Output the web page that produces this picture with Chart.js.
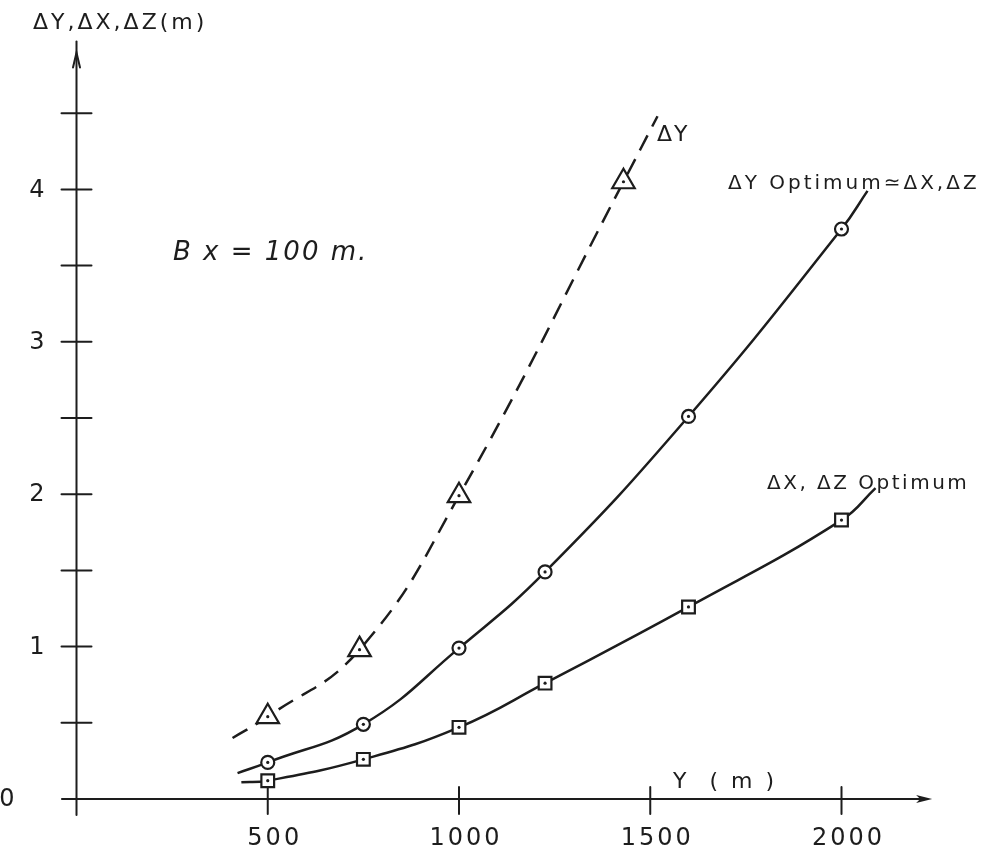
<!DOCTYPE html>
<html>
<head>
<meta charset="utf-8">
<script src="https://cdn.jsdelivr.net/npm/chart.js@4/dist/chart.umd.min.js"></script>
<style>
  html, body { margin: 0; padding: 0; background: #fff; }
  #wrap { width: 1008px; height: 852px; position: relative; }
</style>
</head>
<body>
<div id="wrap"><canvas id="grafico"></canvas></div>
<script>
// valores (Y en m)
const dyMarkX = [500, 740, 1000, 1430];
const dyMarkY = [0.54, 0.98, 1.99, 4.05];
const dyCurveX = [408, 500, 740, 1000, 1430, 1519];
const dyCurveY = [0.40, 0.54, 0.98, 1.99, 4.05, 4.48];

const optMarkX = [500, 750, 1000, 1225, 1600, 2000];
const optMarkY = [0.24, 0.49, 0.99, 1.49, 2.51, 3.74];
const optCurveX = [421, 500, 750, 1000, 1225, 1600, 2000, 2068];
const optCurveY = [0.17, 0.24, 0.49, 0.99, 1.49, 2.51, 3.74, 3.99];

const xzMarkX = [500, 750, 1000, 1225, 1600, 2000];
const xzMarkY = [0.12, 0.26, 0.47, 0.76, 1.26, 1.83];
const xzCurveX = [431, 500, 750, 1000, 1225, 1600, 2000, 2089];
const xzCurveY = [0.11, 0.12, 0.26, 0.47, 0.76, 1.26, 1.83, 2.04];

const xTicks = [500, 1000, 1500, 2000];
const yTickLabels = [0, 1, 2, 3, 4];
const yTickMarks = [0.5, 1, 1.5, 2, 2.5, 3, 3.5, 4, 4.5];

const tituloY = 'ΔY,ΔX,ΔZ(m)';
const tituloX = 'Y  ( m )';
const nota = 'B x = 100 m.';
const etqDY = 'ΔY';
const etqOpt = 'ΔY Optimum≃ΔX,ΔZ';
const etqXZ = 'ΔX, ΔZ Optimum';

const tinta = '#1d1d1d';
const fuente = '"DejaVu Sans", sans-serif';

const pts = (xs, ys) => xs.map((v, i) => ({ x: v, y: ys[i] }));

const ejesMano = {
    id: 'ejesMano',
    beforeDatasetsDraw(chart) {
        const { ctx, scales: { x, y } } = chart;
        const x0 = x.getPixelForValue(0);
        const y0 = y.getPixelForValue(0);
        ctx.save();
        ctx.strokeStyle = tinta;
        ctx.fillStyle = tinta;
        ctx.lineWidth = 2;
        ctx.lineCap = 'round';

        // eje X con flecha
        const xFin = x.getPixelForValue(2237);
        ctx.beginPath();
        ctx.moveTo(x.getPixelForValue(-38), y0);
        ctx.lineTo(xFin - 6, y0);
        ctx.stroke();
        ctx.beginPath();
        ctx.moveTo(xFin, y0);
        ctx.lineTo(xFin - 16, y0 - 4);
        ctx.lineTo(xFin - 12, y0);
        ctx.lineTo(xFin - 16, y0 + 4);
        ctx.closePath();
        ctx.fill();

        // eje Y con flecha
        const yFin = y.getPixelForValue(4.97);
        ctx.beginPath();
        ctx.moveTo(x0, y.getPixelForValue(-0.105));
        ctx.lineTo(x0, yFin);
        ctx.stroke();
        ctx.beginPath();
        ctx.moveTo(x0 - 3.5, yFin + 26);
        ctx.lineTo(x0, yFin + 11);
        ctx.lineTo(x0 + 3.5, yFin + 26);
        ctx.stroke();

        // marcas
        xTicks.forEach(v => {
            const px = x.getPixelForValue(v);
            ctx.beginPath();
            ctx.moveTo(px, y0 - 12);
            ctx.lineTo(px, y0 + 15);
            ctx.stroke();
        });
        yTickMarks.forEach(v => {
            const py = y.getPixelForValue(v);
            ctx.beginPath();
            ctx.moveTo(x0 - 15, py);
            ctx.lineTo(x0 + 15, py);
            ctx.stroke();
        });
        ctx.restore();
    },
    afterDraw(chart) {
        const { ctx, scales: { x, y } } = chart;
        const x0 = x.getPixelForValue(0);
        ctx.save();
        ctx.fillStyle = tinta;
        ctx.textBaseline = 'alphabetic';

        // etiquetas de los ejes
        ctx.font = '24px ' + fuente;
        ctx.letterSpacing = '3px';
        ctx.textAlign = 'center';
        xTicks.forEach(v => {
            ctx.fillText(String(v), x.getPixelForValue(v) + 7, 845);
        });
        ctx.textAlign = 'right';
        ctx.textBaseline = 'middle';
        ctx.letterSpacing = '0px';
        yTickLabels.forEach(v => {
            const px = v === 0 ? x0 - 62 : x0 - 32;
            ctx.fillText(String(v), px, y.getPixelForValue(v) + 1);
        });

        ctx.textBaseline = 'alphabetic';
        ctx.textAlign = 'left';
        ctx.font = '22px ' + fuente;
        ctx.letterSpacing = '3px';
        ctx.fillText(tituloY, 33, 29);

        ctx.font = '22px ' + fuente;
        ctx.letterSpacing = '3px';
        ctx.fillText(tituloX, 673, 788);

        ctx.font = '22px ' + fuente;
        ctx.letterSpacing = '2px';
        ctx.fillText(etqDY, 657, 141);

        ctx.font = '20px ' + fuente;
        ctx.letterSpacing = '3px';
        ctx.fillText(etqOpt, 728, 189);
        ctx.letterSpacing = '2.5px';
        ctx.fillText(etqXZ, 767, 489);

        ctx.font = 'italic 26px ' + fuente;
        ctx.letterSpacing = '2px';
        ctx.fillText(nota, 173, 260);
        ctx.restore();
    }
};

const curva = (xs, ys, dash) => ({
    data: pts(xs, ys),
    showLine: true,
    borderColor: tinta,
    borderWidth: 2.5,
    borderDash: dash,
    tension: 0.45,
    pointRadius: 0,
    order: 3
});

const marcas = (xs, ys, estilo, radio) => ({
    data: pts(xs, ys),
    showLine: false,
    pointStyle: estilo,
    pointRadius: radio,
    pointBackgroundColor: '#fff',
    pointBorderColor: tinta,
    pointBorderWidth: 2.2,
    order: 2
});

const puntos = (xs, ys) => ({
    data: pts(xs, ys),
    showLine: false,
    pointStyle: 'circle',
    pointRadius: 1.6,
    pointBackgroundColor: tinta,
    pointBorderWidth: 0,
    order: 1
});

new Chart(document.getElementById('grafico'), {
    type: 'scatter',
    data: {
        datasets: [
            curva(dyCurveX, dyCurveY, [17, 10]),
            curva(optCurveX, optCurveY, []),
            curva(xzCurveX, xzCurveY, []),
            marcas(dyMarkX, dyMarkY, 'triangle', 13),
            marcas(optMarkX, optMarkY, 'circle', 6.5),
            marcas(xzMarkX, xzMarkY, 'rect', 9),
            puntos(dyMarkX, dyMarkY),
            puntos(optMarkX, optMarkY),
            puntos(xzMarkX, xzMarkY)
        ]
    },
    options: {
        responsive: true,
        maintainAspectRatio: false,
        animation: false,
        events: [],
        layout: { autoPadding: false, padding: { left: 0, right: 13.5, top: 6.5, bottom: 7.3 } },
        scales: {
            x: { type: 'linear', min: -200, max: 2400, display: false },
            y: { type: 'linear', min: -0.3, max: 5.2, display: false }
        },
        plugins: {
            legend: { display: false },
            tooltip: { enabled: false }
        }
    },
    plugins: [ejesMano]
});
</script>
</body>
</html>
